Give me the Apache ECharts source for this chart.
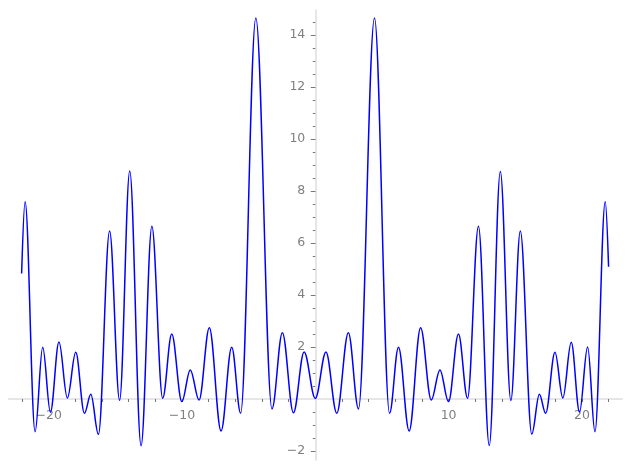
<!DOCTYPE html>
<html>
<head>
<meta charset="utf-8">
<script src="https://cdn.jsdelivr.net/npm/echarts@6/dist/echarts.min.js"></script>
<style>
  html, body { margin: 0; padding: 0; background: #fff; }
  #chart { width: 629px; height: 469px; }
</style>
</head>
<body>
<div id="chart"></div>
<script>
// curve: its local peaks and dips, left to right
const xValues = [
  -22.03, -21.77, -21.02, -20.45, -19.87, -19.23, -18.6, -17.97, -17.32, -16.84,
  -16.27, -15.43, -14.68, -13.92, -13.07, -12.26, -11.45, -10.77, -10.01, -9.38,
  -8.72, -7.95, -7.07, -6.27, -5.6, -4.46, -3.25, -2.47, -1.64, -0.84,
  0,
  0.8, 1.61, 2.48, 3.24, 4.44, 5.57, 6.24, 7.04, 7.9, 8.7,
  9.35, 9.99, 10.74, 11.42, 12.24, 13.05, 13.88, 14.67, 15.38, 16.24,
  16.81, 17.28, 17.98, 18.57, 19.2, 19.82, 20.43, 20.98, 21.75, 22.0
];
const yValues = [
  4.83, 7.59, -1.26, 1.99, -0.51, 2.19, 0.04, 1.8, -0.55, 0.18,
  -1.36, 6.46, -0.05, 8.77, -1.8, 6.64, 0.03, 2.5, -0.1, 1.12,
  -0.04, 2.74, -1.23, 1.99, -0.55, 14.65, -0.38, 2.55, -0.53, 1.81,
  0.02,
  1.81, -0.55, 2.55, -0.38, 14.65, -0.55, 1.99, -1.23, 2.74, -0.04,
  1.12, -0.1, 2.5, 0.03, 6.64, -1.79, 8.75, -0.06, 6.46, -1.35,
  0.18, -0.55, 1.8, 0.04, 2.18, -0.5, 2.0, -1.26, 7.59, 5.09
];

// axis ticks
const xMajorTicks = [-20, -10, 10, 20];
const xMinorTicks = [-22, -20, -18, -16, -14, -12, -10, -8, -6, -4, -2,
  2, 4, 6, 8, 10, 12, 14, 16, 18, 20, 22];
const yMajorTicks = [-2, 2, 4, 6, 8, 10, 12, 14];
const yMinorTicks = [-2, -1.5, -1, -0.5, 0.5, 1, 1.5, 2, 2.5, 3, 3.5, 4, 4.5, 5,
  5.5, 6, 6.5, 7, 7.5, 8, 8.5, 9, 9.5, 10, 10.5, 11, 11.5, 12, 12.5, 13, 13.5, 14, 14.5];

const xRange = [-23, 23];
const yRange = [-2.35, 14.95];

const fmt = v => String(v).replace('-', '\u2212');
const labelFont = { color: '#808080', fontSize: 12.5, fontFamily: 'DejaVu Sans' };

const chart = echarts.init(document.getElementById('chart'));

// grid 0 holds the curve, axis lines and ticks; grids 1 and 2 have an edge
// on the zero lines and only carry the tick labels
const plot = { left: 8.7, right: 7.1, top: 10.3, bottom: 8.9 };
const zeroX = 315.3, zeroY = 399;

const hidden = (extra) => Object.assign({ type: 'value', show: false }, extra);

const option = {
  animation: false,
  grid: [
    plot,
    { left: zeroX, right: plot.right, top: plot.top, bottom: plot.bottom },
    { left: plot.left, right: plot.right, top: plot.top, bottom: 469 - zeroY }
  ],
  xAxis: [
    {
      type: 'value', gridIndex: 0, min: xRange[0], max: xRange[1],
      axisLine: { onZero: true, lineStyle: { color: '#e6e6e6', width: 2 } },
      axisTick: { length: 3, customValues: xMinorTicks, lineStyle: { color: '#777', width: 1 } },
      axisLabel: { show: false },
      splitLine: { show: false }
    },
    hidden({ gridIndex: 1, min: xRange[0], max: xRange[1] }),
    {
      type: 'value', gridIndex: 2, min: xRange[0], max: xRange[1], position: 'bottom',
      axisLine: { show: false, onZero: false },
      axisTick: { show: false },
      axisLabel: Object.assign({ margin: 10, customValues: xMajorTicks, formatter: fmt }, labelFont),
      splitLine: { show: false }
    }
  ],
  yAxis: [
    {
      type: 'value', gridIndex: 0, min: yRange[0], max: yRange[1], position: 'left',
      axisLine: { onZero: true, lineStyle: { color: '#e6e6e6', width: 2 } },
      axisTick: { length: 4.5, customValues: yMajorTicks, lineStyle: { color: '#777', width: 1 } },
      axisLabel: { show: false },
      splitLine: { show: false }
    },
    {
      type: 'value', gridIndex: 0, min: yRange[0], max: yRange[1], position: 'left',
      axisLine: { show: false, onZero: true, onZeroAxisIndex: 0 },
      axisTick: { length: 2.5, customValues: yMinorTicks, lineStyle: { color: '#777', width: 1 } },
      axisLabel: { show: false },
      splitLine: { show: false }
    },
    {
      type: 'value', gridIndex: 1, min: yRange[0], max: yRange[1], position: 'left',
      axisLine: { show: false, onZero: false },
      axisTick: { show: false },
      axisLabel: Object.assign({ margin: 10, customValues: yMajorTicks, formatter: fmt }, labelFont),
      splitLine: { show: false }
    },
    hidden({ gridIndex: 2, min: yRange[0], max: yRange[1] })
  ],
  series: [{
    type: 'line',
    xAxisIndex: 0,
    yAxisIndex: 0,
    data: xValues.map((x, i) => [x, yValues[i]]),
    showSymbol: false,
    smooth: 0.36,
    smoothMonotone: 'x',
    lineStyle: { color: '#0000ff', width: 1.5 },
    z: 5
  }]
};
chart.setOption(option);
</script>
</body>
</html>
